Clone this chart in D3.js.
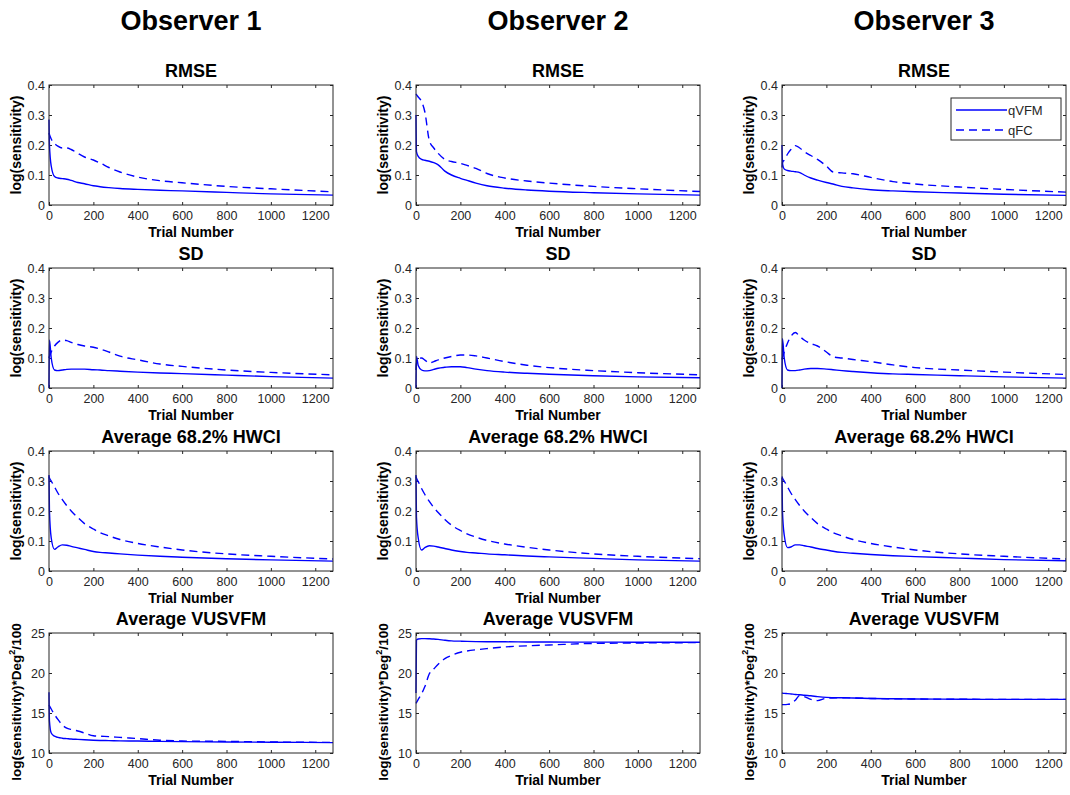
<!DOCTYPE html>
<html>
<head>
<meta charset="utf-8">
<script src="https://cdn.jsdelivr.net/npm/d3@7"></script>
<style>
  body { margin: 0; background: #fff; }
  svg { font-family: Arial, "Liberation Sans", Helvetica, sans-serif; }
</style>
</head>
<body>
<div id="chart"></div>
<script>
const SVG_WIDTH = 1070;
const SVG_HEIGHT = 795;
const COL_LEFT = [49, 416, 782];
const ROW_TOP = [85, 268, 451, 633];
const PLOT_W = 284;
const PLOT_H = 120;
const AXIS_COLOR = "#262626";
const LINE_COLOR = "#0000ff";

const OBSERVERS = ["Observer 1", "Observer 2", "Observer 3"];
const METRICS = ["RMSE", "SD", "Average 68.2% HWCI", "Average VUSVFM"];
const SERIES_NAMES = ["qVFM", "qFC"];
const X_TICKS = [0, 200, 400, 600, 800, 1000, 1200];
const Y_TICKS_LOG = [0, 0.1, 0.2, 0.3, 0.4];
const Y_TICKS_VUS = [10, 15, 20, 25];

// trial numbers shared by every curve
const TRIALS = [0, 2, 10, 25, 40, 60, 80, 100, 130, 160, 200, 230, 270, 320, 400, 500, 600, 800, 1000, 1280];

// RMSE
const RMSE_OBS1_QVFM = [0.285, 0.2, 0.13, 0.095, 0.09, 0.088, 0.086, 0.082, 0.075, 0.071, 0.064, 0.061, 0.058, 0.055, 0.052, 0.049, 0.047, 0.042, 0.037, 0.033];
const RMSE_OBS1_QFC  = [0.24, 0.235, 0.22, 0.205, 0.196, 0.19, 0.19, 0.185, 0.172, 0.16, 0.15, 0.14, 0.125, 0.11, 0.093, 0.081, 0.074, 0.062, 0.054, 0.044];
const RMSE_OBS2_QVFM = [0.3, 0.178, 0.162, 0.152, 0.149, 0.146, 0.141, 0.134, 0.113, 0.1, 0.089, 0.082, 0.073, 0.064, 0.056, 0.05, 0.046, 0.041, 0.037, 0.033];
const RMSE_OBS2_QFC  = [0.37, 0.368, 0.36, 0.345, 0.31, 0.215, 0.19, 0.172, 0.152, 0.145, 0.139, 0.132, 0.122, 0.105, 0.09, 0.08, 0.073, 0.062, 0.054, 0.045];
const RMSE_OBS3_QVFM = [0.2, 0.14, 0.12, 0.115, 0.113, 0.111, 0.108, 0.1, 0.09, 0.083, 0.075, 0.07, 0.062, 0.057, 0.051, 0.047, 0.044, 0.04, 0.036, 0.032];
const RMSE_OBS3_QFC  = [0.125, 0.14, 0.15, 0.17, 0.185, 0.198, 0.19, 0.178, 0.165, 0.152, 0.13, 0.11, 0.107, 0.104, 0.092, 0.078, 0.07, 0.06, 0.052, 0.043];

// SD
const SD_OBS1_QVFM = [0, 0.16, 0.1, 0.06, 0.058, 0.06, 0.062, 0.063, 0.063, 0.063, 0.061, 0.06, 0.058, 0.056, 0.053, 0.05, 0.048, 0.043, 0.038, 0.033];
const SD_OBS1_QFC  = [0.1, 0.105, 0.12, 0.14, 0.152, 0.16, 0.158, 0.152, 0.145, 0.14, 0.136, 0.13, 0.12, 0.106, 0.094, 0.08, 0.072, 0.06, 0.052, 0.044];
const SD_OBS2_QVFM = [0, 0.105, 0.075, 0.06, 0.057, 0.058, 0.062, 0.066, 0.069, 0.071, 0.071, 0.068, 0.063, 0.058, 0.053, 0.049, 0.046, 0.041, 0.037, 0.034];
const SD_OBS2_QFC  = [0.06, 0.08, 0.095, 0.1, 0.093, 0.083, 0.088, 0.094, 0.1, 0.105, 0.11, 0.11, 0.107, 0.1, 0.088, 0.076, 0.068, 0.058, 0.051, 0.044];
const SD_OBS3_QVFM = [0, 0.165, 0.1, 0.06, 0.058, 0.058, 0.06, 0.063, 0.065, 0.065, 0.063, 0.061, 0.058, 0.055, 0.051, 0.047, 0.045, 0.041, 0.037, 0.033];
const SD_OBS3_QFC  = [0.095, 0.1, 0.12, 0.15, 0.172, 0.185, 0.172, 0.16, 0.148, 0.14, 0.12, 0.104, 0.1, 0.095, 0.088, 0.077, 0.068, 0.06, 0.053, 0.045];

// Average 68.2% HWCI
const HWCI_OBS1_QVFM = [0.32, 0.2, 0.11, 0.072, 0.08, 0.087, 0.086, 0.082, 0.077, 0.072, 0.065, 0.062, 0.06, 0.057, 0.053, 0.049, 0.046, 0.041, 0.037, 0.033];
const HWCI_OBS1_QFC  = [0.315, 0.31, 0.3, 0.28, 0.26, 0.238, 0.218, 0.2, 0.178, 0.158, 0.14, 0.128, 0.117, 0.105, 0.092, 0.08, 0.07, 0.057, 0.049, 0.04];
const HWCI_OBS2_QVFM = [0.32, 0.18, 0.11, 0.07, 0.078, 0.084, 0.083, 0.08, 0.075, 0.07, 0.065, 0.062, 0.06, 0.057, 0.054, 0.05, 0.047, 0.042, 0.037, 0.033];
const HWCI_OBS2_QFC  = [0.315, 0.31, 0.298, 0.275, 0.255, 0.232, 0.212, 0.195, 0.172, 0.153, 0.135, 0.124, 0.113, 0.102, 0.09, 0.079, 0.07, 0.057, 0.049, 0.041];
const HWCI_OBS3_QVFM = [0.31, 0.2, 0.12, 0.078, 0.08, 0.087, 0.087, 0.084, 0.08, 0.075, 0.07, 0.066, 0.062, 0.059, 0.055, 0.051, 0.048, 0.043, 0.038, 0.034];
const HWCI_OBS3_QFC  = [0.315, 0.31, 0.3, 0.28, 0.26, 0.238, 0.218, 0.2, 0.178, 0.158, 0.14, 0.128, 0.117, 0.105, 0.092, 0.08, 0.07, 0.057, 0.049, 0.04];

// Average VUSVFM
const VUS_OBS1_QVFM = [17.6, 14, 12.5, 12.1, 11.95, 11.85, 11.8, 11.75, 11.7, 11.65, 11.6, 11.57, 11.55, 11.52, 11.5, 11.45, 11.42, 11.38, 11.35, 11.3];
const VUS_OBS1_QFC  = [16.0, 15.9, 15.5, 14.8, 14.2, 13.5, 13.1, 12.95, 12.75, 12.5, 12.15, 12.1, 12.05, 11.95, 11.8, 11.6, 11.5, 11.45, 11.38, 11.32];
const VUS_OBS2_QVFM = [17.5, 24.1, 24.25, 24.3, 24.3, 24.28, 24.25, 24.2, 24.1, 24.02, 23.98, 23.95, 23.92, 23.9, 23.9, 23.88, 23.87, 23.86, 23.85, 23.85];
const VUS_OBS2_QFC  = [16.2, 16.3, 16.7, 17.4, 18.3, 19.9, 20.5, 21.1, 21.8, 22.2, 22.6, 22.75, 22.9, 23.05, 23.25, 23.4, 23.5, 23.7, 23.75, 23.8];
const VUS_OBS3_QVFM = [17.5, 17.48, 17.45, 17.42, 17.38, 17.32, 17.28, 17.22, 17.15, 17.05, 16.95, 16.92, 16.9, 16.88, 16.82, 16.78, 16.75, 16.72, 16.7, 16.7];
const VUS_OBS3_QFC  = [16.05, 16.05, 16.05, 16.08, 16.15, 16.6, 17.2, 17.05, 16.7, 16.55, 16.85, 16.88, 16.9, 16.88, 16.82, 16.78, 16.75, 16.72, 16.7, 16.7];

// row -> [col -> [qVFM, qFC]]
const PANEL_DATA = [
  [[RMSE_OBS1_QVFM, RMSE_OBS1_QFC], [RMSE_OBS2_QVFM, RMSE_OBS2_QFC], [RMSE_OBS3_QVFM, RMSE_OBS3_QFC]],
  [[SD_OBS1_QVFM, SD_OBS1_QFC], [SD_OBS2_QVFM, SD_OBS2_QFC], [SD_OBS3_QVFM, SD_OBS3_QFC]],
  [[HWCI_OBS1_QVFM, HWCI_OBS1_QFC], [HWCI_OBS2_QVFM, HWCI_OBS2_QFC], [HWCI_OBS3_QVFM, HWCI_OBS3_QFC]],
  [[VUS_OBS1_QVFM, VUS_OBS1_QFC], [VUS_OBS2_QVFM, VUS_OBS2_QFC], [VUS_OBS3_QVFM, VUS_OBS3_QFC]]
];

const svg = d3.select("#chart")
  .append("svg")
  .attr("width", SVG_WIDTH)
  .attr("height", SVG_HEIGHT);

// column headers
OBSERVERS.forEach((name, c) => {
  svg.append("text")
    .attr("x", COL_LEFT[c] + PLOT_W / 2)
    .attr("y", 30)
    .attr("text-anchor", "middle")
    .attr("font-size", 27)
    .attr("font-weight", "bold")
    .attr("fill", "#000")
    .text(name);
});

const xScale = d3.scaleLinear().domain([0, 1280]).range([0, PLOT_W]);

METRICS.forEach((metric, r) => {
  const isVus = r === 3;
  const yScale = d3.scaleLinear()
    .domain(isVus ? [10, 25] : [0, 0.4])
    .range([PLOT_H, 0]);
  const yTicks = isVus ? Y_TICKS_VUS : Y_TICKS_LOG;

  OBSERVERS.forEach((obs, c) => {
    const g = svg.append("g")
      .attr("transform", `translate(${COL_LEFT[c]},${ROW_TOP[r]})`);

    // panel title
    g.append("text")
      .attr("x", PLOT_W / 2)
      .attr("y", -8)
      .attr("text-anchor", "middle")
      .attr("font-size", 18)
      .attr("font-weight", "bold")
      .attr("fill", "#000")
      .text(metric);

    // axes, ticks pointing inward like MATLAB
    const bottom = g.append("g")
      .attr("transform", `translate(0,${PLOT_H})`)
      .call(d3.axisBottom(xScale).tickValues(X_TICKS).tickSizeInner(-3).tickSizeOuter(0).tickPadding(6)
        .tickFormat(d3.format("d")));
    const top = g.append("g")
      .call(d3.axisTop(xScale).tickValues(X_TICKS).tickSizeInner(-3).tickSizeOuter(0).tickFormat(""));
    const left = g.append("g")
      .call(d3.axisLeft(yScale).tickValues(yTicks).tickSizeInner(-3).tickSizeOuter(0).tickPadding(4)
        .tickFormat(d => isVus ? d3.format("d")(d) : (d === 0 ? "0" : d3.format(".1f")(d))));
    const right = g.append("g")
      .attr("transform", `translate(${PLOT_W},0)`)
      .call(d3.axisRight(yScale).tickValues(yTicks).tickSizeInner(-3).tickSizeOuter(0).tickFormat(""));

    [bottom, top, left, right].forEach(ax => {
      ax.attr("font-family", null).attr("font-size", 12.5);
      ax.select(".domain").remove();
      ax.selectAll(".tick line").attr("stroke", AXIS_COLOR);
      ax.selectAll(".tick text").attr("fill", AXIS_COLOR);
    });

    // curves
    const line = d3.line()
      .x((v, i) => xScale(TRIALS[i]))
      .y(v => yScale(v))
      .curve(d3.curveMonotoneX);

    PANEL_DATA[r][c].forEach((values, s) => {
      g.append("path")
        .datum(values)
        .attr("d", line)
        .attr("fill", "none")
        .attr("stroke", LINE_COLOR)
        .attr("stroke-width", 1.4)
        .attr("stroke-dasharray", s === 1 ? "8,5" : null);
    });

    // box
    g.append("rect")
      .attr("width", PLOT_W)
      .attr("height", PLOT_H)
      .attr("fill", "none")
      .attr("stroke", AXIS_COLOR)
      .attr("stroke-width", 1);

    // axis labels
    g.append("text")
      .attr("x", PLOT_W / 2)
      .attr("y", PLOT_H + 32)
      .attr("text-anchor", "middle")
      .attr("font-size", 14)
      .attr("font-weight", "bold")
      .attr("fill", "#000")
      .text("Trial Number");

    const yLab = g.append("text")
      .attr("transform", `translate(-28,${PLOT_H / 2 + (isVus ? 9 : 0)}) rotate(-90)`)
      .attr("text-anchor", "middle")
      .attr("font-size", isVus ? 13.5 : 14)
      .attr("font-weight", "bold")
      .attr("fill", "#000");
    if (isVus) {
      yLab.append("tspan").text("log(sensitivity)*Deg");
      yLab.append("tspan").attr("font-size", 9).attr("dy", -6).text("2");
      yLab.append("tspan").attr("dy", 6).text("/100");
    } else {
      yLab.text("log(sensitivity)");
    }

    // legend in the top-right panel
    if (r === 0 && c === 2) {
      const lg = g.append("g").attr("transform", `translate(${PLOT_W - 115},13)`);
      lg.append("rect")
        .attr("width", 110)
        .attr("height", 42)
        .attr("fill", "#fff")
        .attr("stroke", AXIS_COLOR)
        .attr("stroke-width", 1);
      SERIES_NAMES.forEach((name, s) => {
        const yy = 12 + s * 20;
        lg.append("line")
          .attr("x1", 5).attr("x2", 56)
          .attr("y1", yy).attr("y2", yy)
          .attr("stroke", LINE_COLOR)
          .attr("stroke-width", 1.4)
          .attr("stroke-dasharray", s === 1 ? "8,5" : null);
        lg.append("text")
          .attr("x", 57)
          .attr("y", yy + 5)
          .attr("font-size", 13)
          .attr("fill", AXIS_COLOR)
          .text(name);
      });
    }
  });
});
</script>
</body>
</html>
